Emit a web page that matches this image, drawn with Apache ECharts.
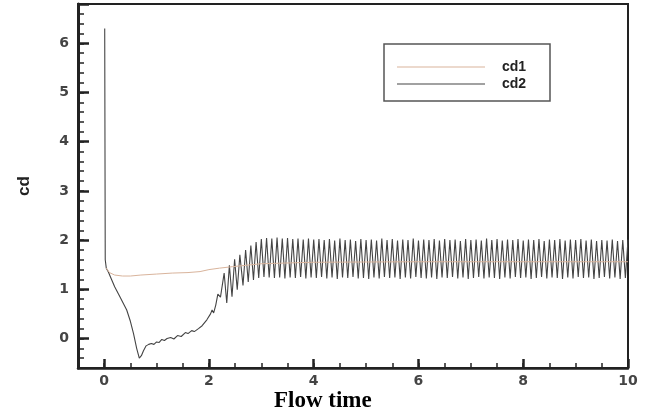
<!DOCTYPE html>
<html>
<head>
<meta charset="utf-8">
<script src="https://cdn.jsdelivr.net/npm/echarts@6/dist/echarts.min.js"></script>
<style>html,body{margin:0;padding:0;background:#fff}#c{width:662px;height:412px}</style>
</head>
<body>
<div id="c"></div>
<script>
// ---- data ----
var xLabels = [0, 2, 4, 6, 8, 10];
var yLabels = [0, 1, 2, 3, 4, 5, 6];
var seriesNames = ['cd1', 'cd2'];

// cd1 : [flow time, cd]
var cd1 = [[0.04,1.43],[0.1,1.34],[0.2,1.29],[0.35,1.27],[0.5,1.27],[0.7,1.29],[1.0,1.31],[1.3,1.33],[1.6,1.34],[1.83,1.36],[2.0,1.40],[2.2,1.43],[2.45,1.46],[3.0,1.52],[4.0,1.55],[6.0,1.56],[8.0,1.56],[10.0,1.56]];

// cd2 transient before the steady oscillation
var cd2Start = [[0.01,6.30],[0.02,1.60],[0.04,1.43],[0.08,1.35],[0.12,1.25],[0.2,1.05],[0.3,0.85],[0.43,0.58],[0.5,0.35],[0.56,0.10],[0.62,-0.20],[0.67,-0.40],[0.71,-0.35],[0.75,-0.25],[0.8,-0.15],[0.85,-0.12],[0.9,-0.10],[0.95,-0.12],[1.0,-0.07],[1.05,-0.08],[1.1,-0.02],[1.15,-0.04],[1.2,0.0],[1.27,0.02],[1.33,-0.01],[1.4,0.06],[1.47,0.04],[1.55,0.12],[1.6,0.10],[1.67,0.16],[1.72,0.14],[1.8,0.20],[1.87,0.26],[1.96,0.38],[2.03,0.50],[2.06,0.58],[2.09,0.52],[2.13,0.68],[2.17,0.90],[2.22,0.84],[2.29,1.33],[2.34,0.72],[2.39,1.49],[2.44,0.85],[2.49,1.61],[2.54,0.99],[2.59,1.70],[2.65,1.08],[2.70,1.80],[2.75,1.15],[2.80,1.89],[2.85,1.19],[2.90,1.96],[2.95,1.23]];

// cd2 oscillation peaks and troughs
var cd2Peaks = [[3.0,2.02],[3.1,2.04],[3.2,2.03],[3.3,2.05],[3.4,2.03],[3.5,2.04],[3.6,2.02],[3.7,2.03],[3.8,2.01],[3.9,2.03],[4.0,2.01],[4.1,2.02],[4.2,2.00],[4.3,2.02],[4.4,1.99],[4.5,2.03],[4.6,2.00],[4.7,2.01],[4.8,1.98],[4.9,2.02],[5.0,2.00],[5.1,2.01],[5.2,1.99],[5.3,2.03],[5.4,2.00],[5.5,2.02],[5.6,1.99],[5.7,2.01],[5.8,2.00],[5.9,2.03],[6.0,1.99],[6.1,2.01],[6.2,2.00],[6.3,2.02],[6.4,1.99],[6.5,2.02],[6.6,2.00],[6.7,2.01],[6.8,1.98],[6.9,2.02],[7.0,2.00],[7.1,2.01],[7.2,1.99],[7.3,2.03],[7.4,2.00],[7.5,2.02],[7.6,1.99],[7.7,2.01],[7.8,2.00],[7.9,2.02],[8.0,1.99],[8.1,2.01],[8.2,2.00],[8.3,2.02],[8.4,1.98],[8.5,2.01],[8.6,2.00],[8.7,2.02],[8.8,1.99],[8.9,2.01],[9.0,2.00],[9.1,2.02],[9.2,1.99],[9.3,2.01],[9.4,1.98],[9.5,2.00],[9.6,1.99],[9.7,2.01],[9.8,1.98],[9.9,2.00],[10.0,2.01]];
var cd2Troughs = [[3.05,1.25],[3.15,1.24],[3.25,1.23],[3.35,1.24],[3.45,1.22],[3.55,1.24],[3.65,1.23],[3.75,1.25],[3.85,1.22],[3.95,1.24],[4.05,1.23],[4.15,1.25],[4.25,1.22],[4.35,1.24],[4.45,1.21],[4.55,1.24],[4.65,1.23],[4.75,1.25],[4.85,1.22],[4.95,1.23],[5.05,1.21],[5.15,1.24],[5.25,1.22],[5.35,1.25],[5.45,1.23],[5.55,1.24],[5.65,1.21],[5.75,1.24],[5.85,1.22],[5.95,1.25],[6.05,1.23],[6.15,1.22],[6.25,1.24],[6.35,1.21],[6.45,1.24],[6.55,1.23],[6.65,1.25],[6.75,1.22],[6.85,1.24],[6.95,1.21],[7.05,1.23],[7.15,1.25],[7.25,1.22],[7.35,1.24],[7.45,1.23],[7.55,1.21],[7.65,1.24],[7.75,1.22],[7.85,1.25],[7.95,1.23],[8.05,1.24],[8.15,1.21],[8.25,1.23],[8.35,1.25],[8.45,1.22],[8.55,1.24],[8.65,1.23],[8.75,1.21],[8.85,1.24],[8.95,1.22],[9.05,1.25],[9.15,1.23],[9.25,1.24],[9.35,1.21],[9.45,1.23],[9.55,1.25],[9.65,1.22],[9.75,1.24],[9.85,1.21],[9.95,1.23]];

// ---- build ----
var cd2 = cd2Start.concat(cd2Peaks, cd2Troughs).sort(function(a,b){return a[0]-b[0];});

function isIn(list, v){ for (var i=0;i<list.length;i++){ if (Math.abs(list[i]-v) < 1e-6) return true; } return false; }
function labelFmt(list){ return function(v){ return isIn(list, v) ? String(Math.round(v)) : ''; }; }

// axis ranges
var X_MIN = -0.5, X_MAX = 10, Y_MIN = -0.6, Y_MAX = 6.8;
var X_MINOR = 0.5, Y_MINOR = 0.2, X_MAJOR = 2, Y_MAJOR = 1;
var W = 662, H = 412, G_L = 78, G_R = 34, G_T = 4, G_B = 44;
var pxPerX = (W - G_L - G_R) / (X_MAX - X_MIN);
var pxPerY = (H - G_T - G_B) / (Y_MAX - Y_MIN);

var chart = echarts.init(document.getElementById('c'), null, {renderer:'canvas'});
var axisColor = '#222';
var labelStyle = {fontFamily:'DejaVu Sans', fontWeight:'bold', fontSize:14, color:'#444'};
var lineIcon = 'path://M0,0H88V1.2H0Z';

// an axis that only draws its split lines (used as tick marks inside a thin grid)
function tickAxis(gridIndex, min, max, interval, width){
  return {gridIndex:gridIndex, type:'value', min:min, max:max, interval:interval, show:true,
    axisLine:{show:false}, axisTick:{show:false}, axisLabel:{show:false},
    splitLine:{show:true, lineStyle:{color:axisColor, width:width, type:'solid'}}};
}
function hiddenAxis(gridIndex, min, max){
  return {gridIndex:gridIndex, type:'value', min:min, max:max, show:false, splitLine:{show:false}};
}

chart.setOption({
  animation:false,
  backgroundColor:'#fff',
  grid:[
    {left:G_L, right:G_R, top:G_T, bottom:G_B, show:true, borderColor:axisColor, borderWidth:2, backgroundColor:'transparent'},
    // thin strips whose split lines act as tick marks
    {left:G_L, width:6, top:G_T, bottom:G_B},                                  // y minor
    {left:G_L, width:11, top:G_T, bottom:G_B + (0 - Y_MIN) * pxPerY},          // y major (from 0)
    {left:G_L, right:G_R, height:5, bottom:G_B},                               // x minor
    {left:G_L + (0 - X_MIN) * pxPerX, right:G_R, height:9, bottom:G_B}         // x major (from 0)
  ],
  legend:{
    orient:'vertical', left:392, top:55, itemWidth:88, itemHeight:14, itemGap:3,
    data:[{name:seriesNames[0], icon:lineIcon},{name:seriesNames[1], icon:lineIcon}],
    textStyle:{fontFamily:'Liberation Sans', fontWeight:'bold', fontSize:14, color:'#222', padding:[0,0,0,12]}
  },
  graphic:[
    {type:'rect', shape:{x:384, y:44, width:166, height:57}, style:{fill:'none', stroke:'#555', lineWidth:1.5}, z:10},
    {type:'text', x:274, y:401, style:{text:'Flow time', font:'bold 23px "Liberation Serif"', fill:'#000', verticalAlign:'middle'}, z:10}
  ],
  xAxis:[
    {gridIndex:0, type:'value', min:X_MIN, max:X_MAX, interval:X_MINOR, position:'bottom',
     axisLine:{show:true, onZero:false, lineStyle:{color:axisColor, width:2.5}},
     axisTick:{show:false},
     axisLabel:{show:true, formatter:labelFmt(xLabels), margin:6, ...labelStyle},
     splitLine:{show:false}},
    hiddenAxis(1, X_MIN, X_MAX),
    hiddenAxis(2, X_MIN, X_MAX),
    tickAxis(3, X_MIN, X_MAX, X_MINOR, 1.5),
    tickAxis(4, 0, X_MAX, X_MAJOR, 2.5)
  ],
  yAxis:[
    {gridIndex:0, type:'value', min:Y_MIN, max:Y_MAX, interval:Y_MINOR, position:'left',
     name:'cd', nameLocation:'middle', nameGap:45,
     nameTextStyle:{fontFamily:'Liberation Sans', fontWeight:'bold', fontSize:17, color:'#222'},
     axisLine:{show:true, onZero:false, lineStyle:{color:axisColor, width:3}},
     axisTick:{show:false},
     axisLabel:{show:true, formatter:labelFmt(yLabels), margin:9, ...labelStyle},
     splitLine:{show:false}},
    tickAxis(1, Y_MIN, Y_MAX, Y_MINOR, 1.5),
    tickAxis(2, 0, Y_MAX, Y_MAJOR, 2.5),
    hiddenAxis(3, Y_MIN, Y_MAX),
    hiddenAxis(4, Y_MIN, Y_MAX)
  ],
  series:[
    {name:'cd2', type:'line', data:cd2, symbol:'none', xAxisIndex:0, yAxisIndex:0,
     lineStyle:{color:'#444', width:1.1}, itemStyle:{color:'#444'}, z:2},
    {name:'cd1', type:'line', data:cd1, symbol:'none', xAxisIndex:0, yAxisIndex:0,
     lineStyle:{color:'#d9b49c', width:1}, itemStyle:{color:'#d9b49c'}, z:3}
  ]
});
</script>
</body>
</html>
